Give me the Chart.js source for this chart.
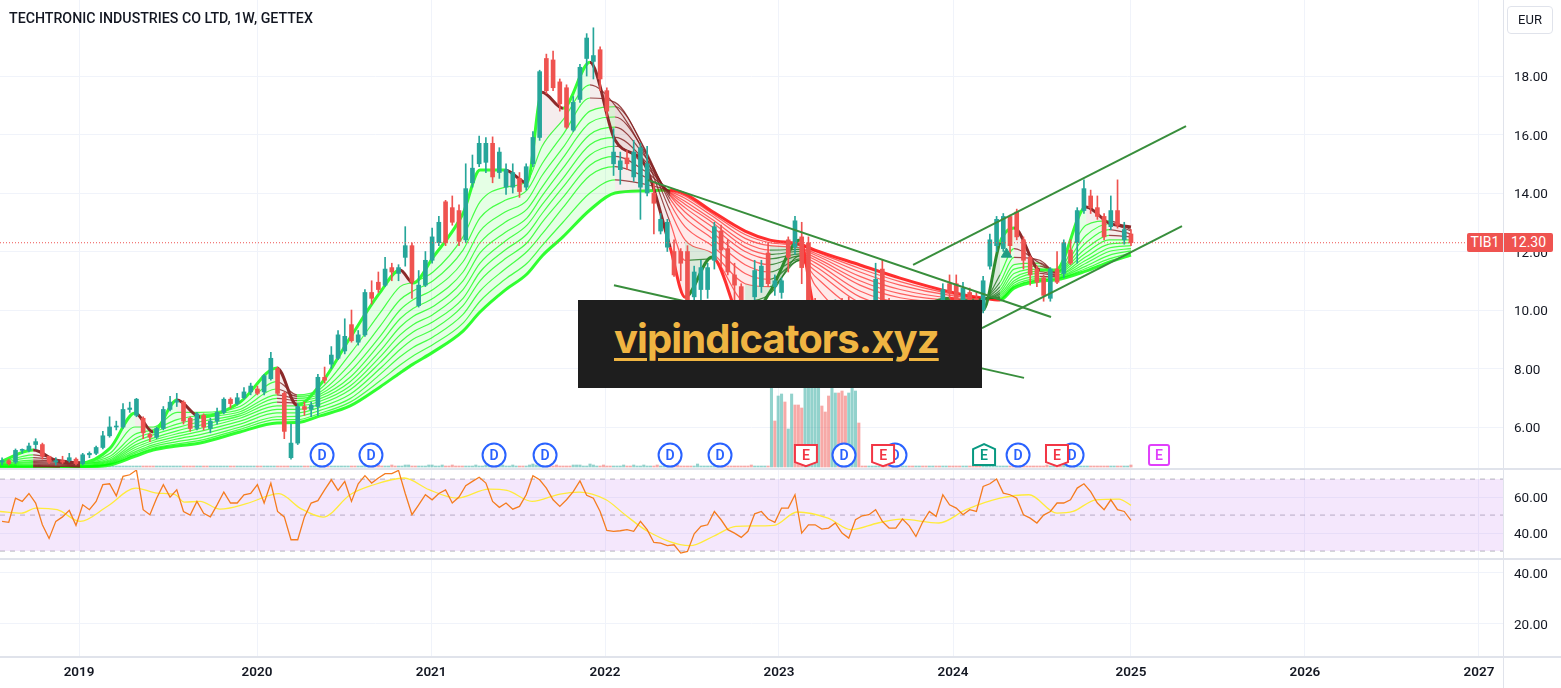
<!DOCTYPE html>
<html>
<head>
<meta charset="utf-8">
<title>TECHTRONIC INDUSTRIES CO LTD, 1W, GETTEX</title>
<script src="https://cdn.jsdelivr.net/npm/chart.js@4"></script>
<style>
  html, body { margin: 0; padding: 0; background: #fff; overflow: hidden; }
  #page { position: relative; width: 1561px; height: 688px; font-family: Roboto, sans-serif; color: #131722; }
  canvas { position: absolute; left: 0; }
  .rule { position: absolute; background: #e0e3eb; }
  #title { position: absolute; left: 9px; top: 10px; font-size: 14.2px; font-weight: 500; white-space: nowrap; }
  #currency { position: absolute; left: 1507px; top: 6px; width: 44px; height: 26px; line-height: 26px; border: 1px solid #e0e3eb; border-radius: 4px; font-size: 13px; text-align: center; box-sizing: content-box; }
  .priceTag { position: absolute; top: 233px; height: 19px; line-height: 19px; background: #ef5350; color: #fff; font-size: 14px; text-align: center; }
  #promo { position: absolute; left: 578px; top: 300px; width: 404px; height: 88px; background: #1e1e1e; }
  #promo span { position: absolute; left: 36px; top: 14px; font-family: Inter, sans-serif; font-size: 40px; font-weight: 700; letter-spacing: -0.9px; color: #f0b542; text-decoration: underline; text-decoration-thickness: 3px; text-underline-offset: 5px; white-space: nowrap; }
</style>
</head>
<body>
<div id="page">
  <canvas id="priceChart" width="1561" height="469" style="top:0"></canvas>
  <canvas id="rsiChart" width="1561" height="90" style="top:469px"></canvas>
  <canvas id="lowerChart" width="1561" height="129" style="top:559px"></canvas>
  <div class="rule" style="left:0;top:468px;width:1561px;height:2px"></div>
  <div class="rule" style="left:0;top:558px;width:1561px;height:2px"></div>
  <div class="rule" style="left:0;top:656px;width:1561px;height:2px"></div>
  <div class="rule" style="left:1503px;top:0;width:1px;height:688px"></div>
  <div id="title">TECHTRONIC INDUSTRIES CO LTD, 1W, GETTEX</div>
  <div id="currency">EUR</div>
  <div class="priceTag" style="left:1467px;width:36px;border-radius:2px 0 0 2px">TIB1</div>
  <div class="priceTag" style="left:1504px;width:49px;border-radius:0 2px 2px 0">12.30</div>
  <div id="promo"><span>vipindicators.xyz</span></div>
</div>
<script>
/* ================================
   Data
================================ */
const yearTickDates = [2019, 2020.015, 2021.008, 2022, 2022.992, 2023.985, 2025, 2025.992, 2026.985];
const yearTickLabels = ["2019", "2020", "2021", "2022", "2023", "2024", "2025", "2026", "2027"];
const priceTicks = [6, 8, 10, 12, 14, 16, 18];
const rsiTicks = [40, 60];
const lowerTicks = [20, 40];
const lastPrice = 12.3;

// every second weekly bar
const candleOpen = [
  4.8,4.85,4.8,5.2,5.2,5.4,5.4,5.0,4.8,4.85,
  4.85,4.9,4.75,5.05,5.1,5.3,5.7,6.0,6.0,6.6,
  6.4,6.3,5.75,5.65,5.95,6.6,6.85,6.85,6.3,5.95,
  6.4,5.95,6.2,6.5,6.95,6.8,7.0,7.2,7.3,7.2,
  7.65,8.0,7.15,4.95,5.45,6.7,6.6,6.7,7.7,8.15,
  8.35,8.6,9.5,8.9,9.15,10.6,10.95,10.85,11.45,11.25,
  11.8,12.2,10.15,10.85,11.7,12.3,13.7,13.5,13.4,12.4,
  14.35,15.0,15.05,15.7,14.7,14.2,14.2,14.5,14.2,15.0,
  15.9,18.6,18.55,17.8,17.6,16.15,17.2,18.6,18.5,18.9,
  17.5,15.0,14.8,15.2,14.55,14.2,14.0,14.0,12.7,12.15,
  12.0,12.0,12.0,10.45,10.7,10.7,11.7,12.7,12.1,11.2,
  10.8,9.9,10.45,10.8,11.95,10.8,10.6,12.4,12.15,12.5,
  12.3,10.2,9.7,9.3,9.6,9.9,9.7,9.5,9.8,9.6,
  10.3,11.4,10.3,9.9,9.6,9.8,9.7,9.9,9.8,10.1,
  10.3,10.9,10.9,10.3,10.6,10.4,10.0,11.5,12.2,12.1,
  13.2,13.35,12.4,11.8,11.4,11.1,10.4,11.4,11.25,12.05,
  12.3,13.4,13.9,13.5,13.2,12.85,13.4,12.4,12.6
];
const candleClose = [
  4.85,4.75,5.2,5.2,5.35,5.5,5.0,4.8,4.85,4.8,
  4.95,4.75,5.05,5.1,5.3,5.7,6.0,6.0,6.6,6.65,
  6.95,5.8,5.65,5.95,6.6,6.85,6.9,6.2,5.95,6.45,
  6.0,6.2,6.5,6.95,6.8,7.0,7.2,7.4,7.15,7.75,
  8.35,7.15,5.85,5.45,6.7,6.6,6.75,7.7,7.6,8.46,
  9.15,9.1,8.95,9.15,10.6,10.4,10.7,11.4,11.3,11.45,
  12.2,10.95,10.85,11.7,12.5,13.0,12.3,13.0,12.35,14.15,
  14.85,15.7,15.7,14.55,15.4,14.8,14.7,14.05,14.9,15.9,
  18.15,17.5,17.6,17.05,16.25,17.1,18.3,19.3,18.7,17.9,
  16.8,15.4,15.1,15.0,15.4,15.55,15.0,13.65,13.1,13.0,
  11.2,11.6,10.3,11.3,11.45,11.45,12.85,12.05,11.3,10.85,
  9.9,9.7,11.35,11.5,10.9,11.0,11.0,11.8,13.05,11.45,
  10.3,9.7,9.3,9.6,9.9,9.7,9.5,9.8,9.6,9.9,
  11.05,10.3,9.9,9.6,9.8,9.7,9.9,9.8,10.1,9.9,
  10.7,10.6,10.3,10.75,10.35,10.3,11.0,12.4,13.1,13.2,
  12.2,12.5,11.7,11.2,10.95,10.5,11.4,10.95,12.3,11.6,
  13.4,14.15,13.5,13.2,12.5,13.4,12.9,12.75,12.3
];
const candleHigh = [
  4.95,4.9,5.25,5.25,5.45,5.6,5.45,5.0,4.95,5.0,
  5.1,4.95,5.1,5.15,5.35,5.85,6.35,6.2,6.8,6.85,
  6.98,6.35,5.8,6.0,6.7,7.05,7.15,6.9,6.35,6.5,
  6.45,6.3,6.65,7.0,7.0,7.15,7.35,7.5,7.4,7.8,
  8.55,8.05,7.2,6.1,6.8,6.85,6.85,7.8,8.05,8.75,
  9.3,9.7,10.0,9.3,10.7,11.0,11.3,11.8,11.6,11.55,
  12.85,12.3,11.35,12.0,12.8,13.2,13.75,13.9,13.6,15.0,
  15.3,15.95,15.9,15.92,15.55,15.0,15.0,14.7,15.0,16.1,
  18.2,18.75,18.85,17.9,17.7,17.3,18.4,19.45,19.65,19.0,
  17.6,16.2,15.4,15.45,15.8,15.7,15.6,14.4,13.3,13.1,
  12.4,12.1,12.2,11.5,11.7,11.6,13.0,12.9,12.4,11.6,
  10.9,10.2,11.7,11.7,12.3,11.2,11.1,12.5,13.2,13.0,
  12.5,10.4,9.9,10.0,10.35,10.4,10.45,10.1,10.0,10.2,
  11.6,11.7,10.4,10.1,10.0,10.1,10.05,10.2,10.25,10.3,
  10.9,11.2,11.2,10.95,10.75,10.6,11.15,12.6,13.2,13.3,
  13.25,13.45,12.5,11.85,11.5,11.2,11.45,12.0,12.4,12.4,
  13.5,14.45,14.1,13.9,13.3,13.9,14.45,13.0,12.75
];
const candleLow = [
  4.7,4.7,4.75,5.1,5.15,5.25,4.9,4.75,4.7,4.75,
  4.8,4.7,4.7,4.95,5.05,5.25,5.65,5.9,5.95,6.5,
  6.35,5.6,5.5,5.6,5.9,6.55,6.7,6.1,5.85,5.9,
  5.9,5.8,6.1,6.45,6.65,6.75,6.95,7.1,7.1,7.1,
  7.6,7.1,5.6,4.9,5.4,6.4,6.35,6.4,7.5,8.0,
  8.3,8.5,8.9,8.8,9.1,10.2,10.6,10.8,11.0,11.0,
  11.5,10.4,10.1,10.8,11.6,12.2,12.2,12.9,12.2,12.3,
  14.2,14.9,14.7,14.35,14.5,13.95,14.0,13.85,14.1,14.9,
  15.8,17.4,17.5,16.8,16.2,16.1,17.1,18.0,17.9,17.5,
  16.6,14.6,14.3,14.8,14.4,13.1,13.9,12.6,12.6,12.0,
  11.15,11.0,10.2,9.9,10.3,10.4,11.4,11.5,11.2,10.3,
  9.6,9.4,10.2,10.6,10.8,10.5,10.4,11.3,11.9,10.9,
  10.1,9.4,9.1,9.1,9.5,9.5,9.3,9.4,9.4,9.5,
  9.8,9.6,9.7,9.4,9.4,9.5,9.5,9.6,9.7,9.8,
  10.2,10.4,10.1,10.2,10.2,10.2,9.9,11.4,12.0,12.0,
  11.9,12.4,11.4,10.85,10.8,10.3,10.3,10.9,11.1,11.55,
  11.6,13.3,13.3,13.1,12.4,12.75,12.8,12.25,12.2
];

// moving average ribbon, fastest first, slowest last
const ribbonDates = [2018.549,2018.738,2018.892,2019.006,2019.177,2019.319,2019.422,2019.559,2019.69,2019.918,
  2020.129,2020.243,2020.375,2020.546,2020.717,2020.831,2020.905,2021.019,2021.19,2021.287,
  2021.43,2021.555,2021.641,2021.76,2021.914,2022.057,2022.228,2022.371,2022.456,2022.61,
  2022.799,2022.941,2023.112,2023.198,2023.454,2023.683,2023.968,2024.156,2024.253,2024.333,
  2024.481,2024.572,2024.743,2024.875,2025];
const ribbonFast = [4.8,5.21,4.8,4.77,5.28,6.48,5.83,6.92,6.34,6.85,8.02,6.75,7.44,9.05,10.6,11.37,10.92,11.8,13.3,14.79,14.79,14.35,17.45,16.9,18.47,15.81,14.96,12.15,10.44,11.81,9.49,10.62,12.39,10.0,9.32,9.73,10.4,10.0,12.32,12.8,11.37,11.37,13.52,12.97,12.84];
const ribbon1 = [4.78,5.05,4.88,4.8,5.1,6.0,6.0,6.5,6.5,6.7,7.55,7.1,7.3,8.5,9.9,10.8,10.95,11.3,12.5,13.7,14.2,14.4,15.6,16.5,17.7,17.0,15.3,13.0,11.7,11.75,10.3,10.55,11.85,10.85,9.7,9.75,10.2,10.3,11.2,12.1,11.6,11.3,12.9,13.05,12.75];
const ribbon2 = [4.76,4.95,4.86,4.79,5.0,5.75,5.9,6.25,6.4,6.6,7.3,7.05,7.2,8.15,9.45,10.35,10.65,11.0,12.05,13.15,13.75,14.1,15.0,16.0,17.25,17.1,15.45,13.4,12.4,11.95,10.9,10.8,11.7,11.15,10.0,9.85,10.15,10.35,10.95,11.8,11.7,11.3,12.55,12.95,12.7];
const ribbon3 = [4.74,4.87,4.83,4.77,4.93,5.6,5.82,6.1,6.3,6.52,7.1,6.98,7.12,7.9,9.1,10.0,10.35,10.7,11.65,12.7,13.35,13.75,14.6,15.55,16.8,16.95,15.5,13.65,12.85,12.2,11.25,11.05,11.7,11.35,10.25,9.98,10.15,10.35,10.8,11.55,11.6,11.3,12.3,12.75,12.6];
const ribbon4 = [4.72,4.82,4.8,4.75,4.88,5.48,5.73,5.98,6.18,6.45,6.98,6.9,7.05,7.7,8.85,9.7,10.05,10.4,11.3,12.3,13.0,13.45,14.2,15.2,16.4,16.6,15.4,13.8,13.15,12.45,11.55,11.3,11.75,11.5,10.45,10.12,10.18,10.35,10.68,11.4,11.5,11.28,12.1,12.55,12.5];
const ribbon5 = [4.7,4.78,4.76,4.72,4.84,5.38,5.62,5.87,6.06,6.38,6.85,6.82,6.97,7.55,8.6,9.42,9.78,10.12,11.0,11.95,12.65,13.15,13.9,14.85,16.0,16.25,15.25,13.9,13.35,12.65,11.8,11.55,11.85,11.62,10.65,10.27,10.22,10.36,10.6,11.25,11.4,11.25,11.95,12.4,12.4];
const ribbon6 = [4.69,4.74,4.73,4.69,4.81,5.3,5.54,5.77,5.95,6.3,6.72,6.72,6.88,7.4,8.4,9.15,9.5,9.85,10.7,11.6,12.35,12.9,13.6,14.5,15.65,15.9,15.1,13.95,13.5,12.85,12.0,11.75,11.92,11.72,10.85,10.42,10.28,10.37,10.54,11.1,11.32,11.2,11.82,12.25,12.3];
const ribbon7 = [4.67,4.71,4.7,4.67,4.78,5.22,5.47,5.68,5.85,6.2,6.6,6.6,6.78,7.27,8.2,8.9,9.25,9.6,10.4,11.3,12.05,12.6,13.3,14.2,15.3,15.6,14.95,14.0,13.62,13.0,12.15,11.9,12.0,11.8,11.0,10.56,10.35,10.38,10.48,11.0,11.25,11.18,11.7,12.12,12.2];
const ribbon8 = [4.66,4.68,4.67,4.65,4.76,5.15,5.39,5.59,5.74,6.1,6.48,6.48,6.68,7.12,8.0,8.65,9.0,9.33,10.15,11.0,11.75,12.3,13.0,13.85,14.95,15.25,14.75,14.03,13.72,13.1,12.3,12.05,12.07,11.88,11.15,10.7,10.42,10.39,10.43,10.92,11.15,11.14,11.6,12.0,12.1];
const ribbon9 = [4.65,4.66,4.65,4.63,4.74,5.1,5.33,5.5,5.63,6.0,6.35,6.36,6.57,6.97,7.8,8.4,8.72,9.08,9.85,10.65,11.4,12.0,12.6,13.5,14.6,14.9,14.55,14.06,13.82,13.22,12.45,12.2,12.13,11.94,11.3,10.85,10.5,10.4,10.4,10.85,11.08,11.1,11.5,11.87,12.02];
const ribbon10 = [4.64,4.64,4.63,4.63,4.72,5.05,5.27,5.42,5.54,5.92,6.25,6.25,6.47,6.85,7.58,8.12,8.43,8.82,9.55,10.3,11.05,11.6,12.2,13.0,14.0,14.45,14.3,14.08,13.9,13.3,12.58,12.3,12.2,12.0,11.42,10.97,10.56,10.4,10.36,10.8,11.03,11.06,11.42,11.75,11.95];
const ribbonSlow = [4.6,4.61,4.62,4.63,4.7,5.0,5.21,5.35,5.45,5.83,6.14,6.15,6.38,6.72,7.37,7.85,8.15,8.56,9.28,9.93,10.68,11.23,11.85,12.5,13.42,14.0,14.07,14.1,13.97,13.38,12.7,12.39,12.25,12.05,11.54,11.09,10.62,10.41,10.34,10.75,10.99,11.03,11.33,11.64,11.88];

// weekly volume, split around the tall run of bars
const volumeBefore = [
  1,1,1,1,2,1,1,1,1,1,1,2,1,1,1,1,1,1,1,1,
  1,1,1,1,1,1,1,1,1,1,1,1,1,1,1,1,1,1,1,1,
  1,1,1,1,1,1,1,1,1,1,1,1,1,1,1,1,1,1,1,1,
  1,1,1,1,1,1,1,1,1,1,1,1,1,1,1,1,1,1,1,1,
  1,1,1,1,1,1,1,1,1,1,1,1,1,1,1,1,1,1,1,1,
  1,1,1,1,1,1,1,1,2,1,1,5,2,1,1,1,2,1,1,1,
  2,2,1,1,1,1,1,2,2,1,1,2,1,1,2,1,1,1,1,1,
  1,2,1,1,2,1,1,2,1,2,1,1,2,1,1,1,1,2,3,2,
  1,1,1,2,1,2,1,1,1,1,2,2,2,1,1,3,2,1,1,2,
  1,1,1,1,1,2,1,1,2,1,1,2,1,1,1,2,1,1,1,1,
  1,2,1,1,1,1,1,3,1,1,1,1,1,2,1,1,1,1,1,1,
  1,1,1,2,1,1,1,1,1
];
const volumeSpike = [100,46,71,73,65,38,73,62,62,59,95,110,105,100,115,61,55,71,79,74,74,76,71,74,90,76,44];
const volumeSpikeUp = [1,0,1,1,0,1,1,0,0,0,1,1,1,1,1,0,0,0,1,1,0,0,0,1,1,1,0];
const volumeAfter = [
  1,1,1,1,1,1,1,1,1,1,1,1,1,1,1,1,1,1,1,1,
  1,1,1,1,1,1,1,1,1,1,1,1,1,1,1,1,1,1,1,1,
  1,1,1,1,1,2,1,1,1,1,1,1,1,1,1,2,1,1,2,1,
  3,1,2,1,1,1,1,1,1,1,1,1,1,1,1,1,1,1,1,1,2
];

// trend lines, each [start, end]
const trendFallDates = [2022.245, 2024.544];
const trendFallPrices = [14.44, 9.76];
const trendFloorDates = [2022.051, 2024.39];
const trendFloorPrices = [10.85, 7.68];
const channelTopDates = [2023.757, 2025.314];
const channelTopPrices = [11.54, 16.29];
const channelLowDates = [2024.15, 2025.291];
const channelLowPrices = [9.38, 12.87];

const dividendDates = [2020.386, 2020.665, 2021.367, 2021.658, 2022.371, 2022.656, 2023.363, 2023.654, 2024.356, 2024.664];
const earningsMissDates = [2023.146, 2023.586, 2024.578];
const earningsBeatDates = [2024.162];
const earningsNextDates = [2025.16];
const eventLevel = 5.04;
const signalDates = [2024.29];
const signalPrices = [11.91];

const rsiValues = [
  46.5,46,59.4,57.6,62,56.7,44.6,37,46.5,49,
  52.6,44.3,55.7,53,57.6,66.9,67.4,60.7,71.5,72.4,
  75,53,50.2,59.4,66.9,60,64,52,50,57.6,
  51,49,55.7,62.8,56.7,56.7,61.3,62,66.9,56.7,
  67.8,52,49,36.3,36.3,49,56.7,58,64,69.6,
  63.7,68.7,57.6,67.4,71.9,67.8,70.6,73,73,74.8,
  62,50.2,55.7,61.3,58.5,62,64,56.7,60,66.3,
  68.7,71,67.8,57.6,54.3,56.7,53.3,54.8,61.3,71.9,
  69.6,65,58.5,54.8,58.5,63,69,61,59.4,52,
  41.5,41,41.3,41.9,41,46.5,41.9,34.8,34.4,33,
  33.5,28.9,29.8,39.6,43.7,44.6,52,47.4,41.9,40,
  37.6,41,50.7,52,47.8,46,53.9,53.9,61.3,40,
  44.6,44.6,42.2,42.8,45.6,40,37.2,47.4,49.6,50.2,
  53,46.5,42.8,42.8,47.8,44,38.1,46.1,52,49.3,
  61.3,55.7,53.9,50.2,53,52,65.9,67.4,70,62.2,
  61.3,59.4,50.2,48.3,45.6,50,52,56.7,56.7,58.5,
  65,67.4,63,56.7,53,58.5,53,52,47
];
const rsiAverageDates = [2018.549,2018.672,2018.753,2018.875,2019.006,2019.16,2019.325,2019.445,2019.548,2019.6,
  2019.69,2019.804,2019.954,2020.14,2020.26,2020.392,2020.546,2020.665,2020.854,2020.996,
  2021.156,2021.338,2021.441,2021.584,2021.743,2021.852,2022.006,2022.114,2022.245,2022.485,
  2022.616,2022.747,2022.964,2023.095,2023.272,2023.403,2023.557,2023.688,2023.905,2024.059,
  2024.253,2024.418,2024.578,2024.669,2024.8,2024.932,2025];
const rsiAverage = [52,51.1,53.9,53,46.5,54.8,65,62.2,61.3,57.2,
  57.6,53.3,56.3,61.9,53.9,48.9,61.3,66.3,70.6,64.1,
  59.4,64.4,63.7,57.6,61.7,62.8,58.5,50.2,40.9,33,
  38.1,43.7,44.3,51.7,48.3,41.9,45.6,47.8,45.6,53,
  59.4,61.3,51.1,52,58.5,58.9,55.4];
const rsiBands = [70, 50, 30];

/* ================================
   Shared helpers
================================ */
const X_MIN = 2018.549;
const X_MAX = 2027.122;
const WEEK = 1 / 52.18;
const UP = "#26a69a";
const DOWN = "#ef5350";
const GRID = "#f0f3fa";
const TICK_FONT = { family: "Roboto, sans-serif", size: 13.5 };

const candleDates = candleClose.map((_, i) => 2025 - (candleClose.length - 1 - i) * 2 * WEEK);

function points(xs, ys) {
  return xs.map((x, i) => ({ x, y: ys[i] }));
}

function xAxis(showLabels) {
  return {
    type: "linear",
    offset: false,
    min: X_MIN,
    max: X_MAX,
    border: { display: false },
    grid: { color: GRID, drawTicks: false, offset: false },
    afterBuildTicks: scale => { scale.ticks = yearTickDates.map(value => ({ value })); },
    afterFit: scale => {
      scale.height = showLabels ? 31 : 0;
      scale.paddingLeft = 0;
      scale.paddingRight = 0;
    },
    ticks: {
      display: showLabels,
      autoSkip: false,
      maxRotation: 0,
      padding: 8,
      color: "#131722",
      font: { family: "Roboto, sans-serif", size: 13.5, weight: "600" },
      callback: (value, i) => yearTickLabels[i]
    }
  };
}

function yAxis(min, max, tickValues) {
  return {
    position: "right",
    min,
    max,
    border: { display: false },
    grid: { color: GRID, drawTicks: false },
    afterBuildTicks: scale => { scale.ticks = tickValues.map(value => ({ value })); },
    afterFit: scale => {
      scale.width = 58;
      scale.paddingTop = 0;
      scale.paddingBottom = 0;
    },
    ticks: {
      padding: 11,
      labelOffset: 2,
      color: "#131722",
      font: TICK_FONT,
      callback: value => value.toFixed(2)
    }
  };
}

const baseOptions = {
  responsive: false,
  animation: false,
  devicePixelRatio: 1,
  layout: { padding: 0, autoPadding: false },
  plugins: { legend: { display: false }, tooltip: { enabled: false } }
};

/* ================================
   Ribbon
================================ */
function ribbonColor(ctx, rising, risingWeak, falling, fallingWeak) {
  const i = ctx.p1DataIndex;
  const up = ctx.p1.parsed.y >= ctx.p0.parsed.y;
  const slowUp = ribbonSlow[i] >= ribbonSlow[i - 1];
  if (up) return slowUp ? rising : risingWeak;
  return slowUp ? falling : fallingWeak;
}

function ribbonDataset(values, index, last) {
  const thick = index === 0 || last;
  return {
    type: "line",
    data: points(ribbonDates, values),
    order: 4,
    borderWidth: thick ? 3 : 1.2,
    pointRadius: 0,
    cubicInterpolationMode: "monotone",
    fill: last ? false : "+1",
    borderColor: "#33ff33",
    backgroundColor: "rgba(0,255,0,0.1)",
    segment: {
      borderColor: ctx => thick
        ? ribbonColor(ctx, "#33ff33", "#2e8b2e", "#8c2a2a", "#ff3030")
        : ribbonColor(ctx, "rgba(0,255,0,0.7)", "rgba(30,120,30,0.8)", "rgba(130,30,30,0.8)", "rgba(255,20,20,0.65)"),
      backgroundColor: ctx => ribbonColor(ctx, "rgba(0,255,0,0.1)", "rgba(30,120,30,0.16)", "rgba(130,30,30,0.08)", "rgba(255,20,20,0.09)")
    }
  };
}

const ribbons = [ribbonFast, ribbon1, ribbon2, ribbon3, ribbon4, ribbon5, ribbon6, ribbon7, ribbon8, ribbon9, ribbon10, ribbonSlow];

/* ================================
   Volume
================================ */
const volumeValues = [...volumeBefore, ...volumeSpike, ...volumeAfter];
const volumeDates = volumeValues.map((_, i) => 2025 - (volumeValues.length - 1 - i) * WEEK);
const volumeColors = volumeValues.map((_, i) => {
  const fromEnd = volumeValues.length - 1 - i;
  const spikeIndex = i - volumeBefore.length;
  let up;
  if (spikeIndex >= 0 && spikeIndex < volumeSpike.length) {
    up = volumeSpikeUp[spikeIndex] === 1;
  } else {
    const c = Math.max(0, candleClose.length - 1 - Math.round(fromEnd / 2));
    up = candleClose[c] >= candleOpen[c];
  }
  return up ? "rgba(38,166,154,0.5)" : "rgba(239,83,80,0.5)";
});

/* ================================
   Dividend and earnings markers
================================ */
function drawBadge(ctx, x, y, letter, stroke, shape) {
  ctx.save();
  ctx.lineWidth = 2;
  ctx.strokeStyle = stroke;
  ctx.fillStyle = "#fff";
  ctx.beginPath();
  if (shape === "circle") {
    ctx.arc(x, y, 11.5, 0, Math.PI * 2);
  } else if (shape === "down") {
    ctx.moveTo(x - 11, y - 10); ctx.lineTo(x + 11, y - 10); ctx.lineTo(x + 11, y + 7);
    ctx.lineTo(x, y + 11); ctx.lineTo(x - 11, y + 7); ctx.closePath();
  } else if (shape === "up") {
    ctx.moveTo(x - 11, y - 6); ctx.lineTo(x, y - 11); ctx.lineTo(x + 11, y - 6);
    ctx.lineTo(x + 11, y + 10); ctx.lineTo(x - 11, y + 10); ctx.closePath();
  } else {
    ctx.roundRect(x - 10, y - 10, 20, 20, 2);
  }
  ctx.fill();
  ctx.stroke();
  ctx.fillStyle = stroke;
  ctx.font = "600 14px Roboto, sans-serif";
  ctx.textAlign = "center";
  ctx.textBaseline = "middle";
  ctx.fillText(letter, x, y + 1);
  ctx.restore();
}

const eventBadges = {
  id: "eventBadges",
  afterDatasetsDraw(chart) {
    const { ctx, scales: { x: xs, y: ys } } = chart;
    const y = ys.getPixelForValue(eventLevel);
    dividendDates.forEach(d => drawBadge(ctx, xs.getPixelForValue(d), y, "D", "#2962ff", "circle"));
    earningsMissDates.forEach(d => drawBadge(ctx, xs.getPixelForValue(d), y, "E", "#f23645", "down"));
    earningsBeatDates.forEach(d => drawBadge(ctx, xs.getPixelForValue(d), y, "E", "#089981", "up"));
    earningsNextDates.forEach(d => drawBadge(ctx, xs.getPixelForValue(d), y, "E", "#e040fb", "box"));
  }
};

/* ================================
   Charts
================================ */
function trendDataset(dates, prices) {
  return {
    type: "line",
    data: points(dates, prices),
    order: 0,
    borderColor: "#388e3c",
    borderWidth: 2,
    pointRadius: 0
  };
}

new Chart(document.getElementById("priceChart"), {
  type: "bar",
  data: {
    datasets: [
      {
        data: points(volumeDates, volumeValues),
        yAxisID: "volume",
        order: 6,
        grouped: false,
        barThickness: 2.4,
        backgroundColor: volumeColors
      },
      ...ribbons.map((values, i) => ribbonDataset(values, i, i === ribbons.length - 1)),
      {
        data: points(candleDates, candleLow.map((low, i) => [low, candleHigh[i]])),
        order: 3,
        grouped: false,
        barThickness: 1,
        backgroundColor: candleClose.map((c, i) => (c >= candleOpen[i] ? UP : DOWN))
      },
      {
        data: points(candleDates, candleOpen.map((o, i) => [o, candleClose[i]])),
        order: 2,
        grouped: false,
        barThickness: 4,
        minBarLength: 1,
        backgroundColor: candleClose.map((c, i) => (c >= candleOpen[i] ? UP : DOWN))
      },
      trendDataset(trendFallDates, trendFallPrices),
      trendDataset(trendFloorDates, trendFloorPrices),
      trendDataset(channelTopDates, channelTopPrices),
      trendDataset(channelLowDates, channelLowPrices),
      {
        type: "line",
        data: points([X_MIN, X_MAX], [lastPrice, lastPrice]),
        order: 1,
        borderColor: DOWN,
        borderWidth: 1,
        borderDash: [1, 2],
        pointRadius: 0
      },
      {
        type: "line",
        data: points(signalDates, signalPrices),
        order: 1,
        showLine: false,
        pointStyle: "triangle",
        pointRadius: 6,
        pointBackgroundColor: "#1f9d83",
        pointBorderColor: "#1f9d83"
      }
    ]
  },
  options: {
    ...baseOptions,
    scales: {
      x: xAxis(false),
      y: yAxis(4.564, 20.6, priceTicks),
      volume: { display: false, min: -2, max: 467, beginAtZero: false }
    }
  },
  plugins: [eventBadges]
});

function bandLine(value, index) {
  return {
    type: "line",
    data: points([X_MIN, X_MAX], [value, value]),
    order: 5,
    borderColor: "rgba(120,123,134,0.55)",
    borderWidth: 1,
    borderDash: [5, 5],
    pointRadius: 0,
    fill: index === 0 ? "+2" : false,
    backgroundColor: "rgba(190,110,240,0.17)"
  };
}

new Chart(document.getElementById("rsiChart"), {
  type: "line",
  data: {
    datasets: [
      ...rsiBands.map(bandLine),
      {
        data: points(rsiAverageDates, rsiAverage),
        order: 2,
        borderColor: "#ffeb3b",
        borderWidth: 1.3,
        pointRadius: 0,
        cubicInterpolationMode: "monotone"
      },
      {
        data: points(candleDates, rsiValues),
        order: 1,
        borderColor: "#f57c1f",
        borderWidth: 1.3,
        pointRadius: 0
      }
    ]
  },
  options: {
    ...baseOptions,
    scales: { x: xAxis(false), y: yAxis(25.6, 75.6, rsiTicks) }
  }
});

new Chart(document.getElementById("lowerChart"), {
  type: "line",
  data: { datasets: [] },
  options: {
    ...baseOptions,
    scales: { x: xAxis(true), y: yAxis(6.7, 45.4, lowerTicks) }
  }
});
</script>
</body>
</html>
